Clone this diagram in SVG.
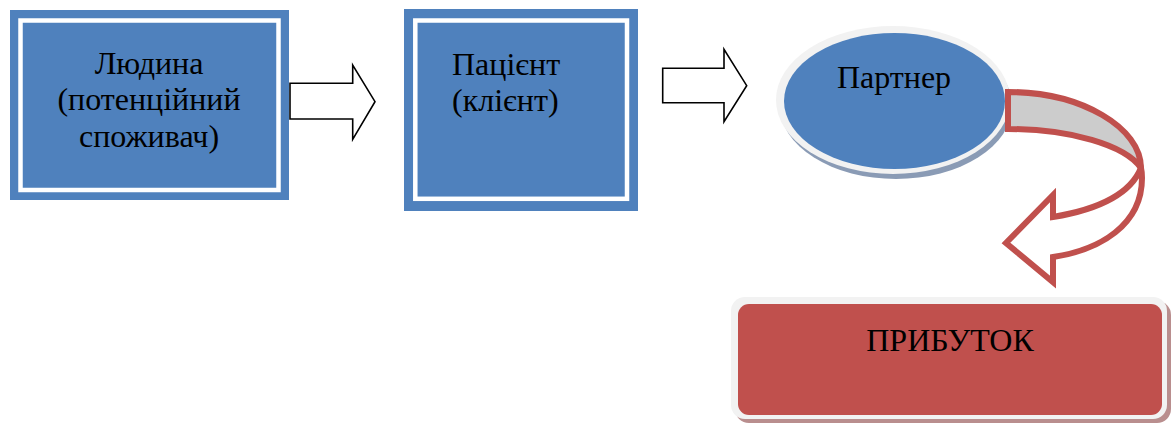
<svg xmlns="http://www.w3.org/2000/svg" width="1171" height="425" viewBox="0 0 1171 425">
<style>
.t{font-family:"Liberation Serif","Times New Roman",serif;font-size:32px;fill:#000}
.box{fill:#4F81BD}
.frame{fill:none;stroke:#fff;stroke-width:4.5}
.arr{fill:#fff;stroke:#000;stroke-width:1.6;stroke-linejoin:miter}
.curv{stroke:#C0504D;stroke-width:6;stroke-linejoin:miter}
</style>
<rect width="1171" height="425" fill="#fff"/>
<g id="node-lyudyna">
<rect class="box" x="10" y="10" width="279" height="190"/>
<rect class="frame" x="20.5" y="20.5" width="258" height="169.5"/>
<text class="t" text-anchor="middle" x="149" y="74">Людина</text>
<text class="t" text-anchor="middle" x="149" y="110">(потенційний</text>
<text class="t" text-anchor="middle" x="149" y="147">споживач)</text>
</g>
<g id="node-patsient">
<rect class="box" x="404" y="9" width="234" height="202"/>
<rect class="frame" x="415.3" y="20.5" width="211.7" height="178.3"/>
<text class="t" x="452" y="75">Пацієнт</text>
<text class="t" x="452" y="111">(клієнт)</text>
</g>
<g id="node-partner">
<ellipse cx="896" cy="106" rx="116" ry="73" fill="#8a9bb5"/>
<ellipse cx="893" cy="100" rx="117" ry="74" fill="#f2f2f2"/>
<ellipse cx="894.5" cy="101" rx="110.5" ry="68" fill="#4F81BD"/>
<text class="t" text-anchor="middle" x="894" y="88">Партнер</text>
</g>
<g id="node-prybutok">
<rect x="735" y="301" width="436" height="122" rx="14" fill="#b98e8e"/>
<rect x="731" y="297" width="436" height="122" rx="14" fill="#f2f2f2"/>
<rect x="738" y="304" width="424" height="111" rx="11" fill="#C0504D"/>
<text class="t" text-anchor="middle" x="950" y="351">ПРИБУТОК</text>
</g>
<g id="connectors">
<path class="arr" d="M290,83.3 L352.7,83.3 L352.7,65 L375,101.7 L352.7,139.3 L352.7,119 L290,119 Z"/>
<path class="arr" d="M662.7,68.3 L724,68.3 L724,49.3 L746.7,85.7 L724,121.7 L724,102.7 L662.7,102.7 Z"/>
<path class="curv" fill="#cccccc" d="M1008,92 C1082,92 1141,128 1141,168 C1125,145 1070,129 1008,129 Z"/>
<path class="curv" fill="#ffffff" d="M1141,168 C1142,172 1142,175 1142,178 C1142,225 1100,250 1053,257 L1053,282 L1006,243 L1053,195 L1053,217 C1095,210 1130,195 1141,168 Z"/>
</g>
</svg>
